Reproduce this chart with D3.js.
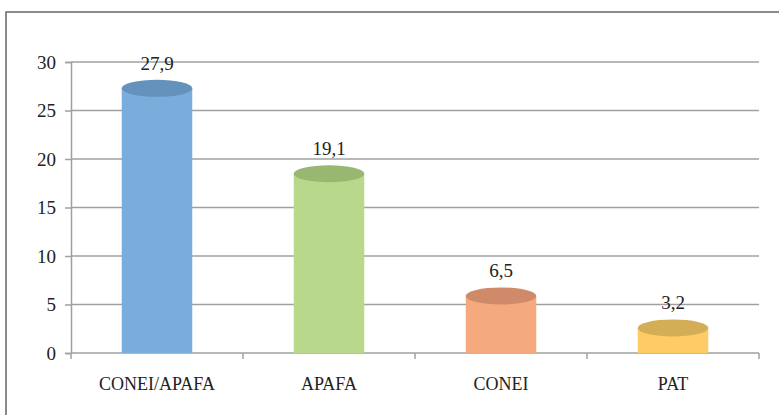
<!DOCTYPE html>
<html>
<head>
<meta charset="utf-8">
<script src="https://cdn.jsdelivr.net/npm/d3@7"></script>
<style>
  body { margin: 0; background: #fff; }
</style>
</head>
<body>
<div id="chart"></div>
<script>
var categories = ['CONEI/APAFA', 'APAFA', 'CONEI', 'PAT'];
var values = [27.9, 19.1, 6.5, 3.2];
var valueLabels = ['27,9', '19,1', '6,5', '3,2'];
var bodyColors = ['#7aacdc', '#b8d98b', '#f5a97f', '#fecb66'];
var topColors = ['#6592bd', '#98b771', '#cf8a6a', '#d4ad57'];
var yTicks = [0, 5, 10, 15, 20, 25, 30];

var width = 779, height = 415;
var plotLeft = 71, plotRight = 759, plotTop = 62, plotBottom = 353;
var ry = 8.5, topShift = 6;
var serif = '"Liberation Serif", serif';

var svg = d3.select('#chart').append('svg')
    .attr('width', width)
    .attr('height', height);

// outer frame
svg.append('rect')
    .attr('x', 6).attr('y', 12)
    .attr('width', 800).attr('height', 500)
    .attr('fill', 'none')
    .attr('stroke', '#666')
    .attr('stroke-width', 1.5);

var x = d3.scaleBand().domain(categories).range([plotLeft, plotRight]).paddingInner(0.59).paddingOuter(0.295);
var xb = d3.scaleBand().domain(categories).range([plotLeft, plotRight]);
var y = d3.scaleLinear().domain([0, 30]).range([plotBottom, plotTop]);

// gridlines
svg.append('g').selectAll('line')
    .data(yTicks.slice(1))
    .enter().append('line')
    .attr('x1', plotLeft).attr('x2', plotRight)
    .attr('y1', d => y(d)).attr('y2', d => y(d))
    .attr('stroke', '#a0a0a0').attr('stroke-width', 1.5);

// y axis
var yAxis = svg.append('g')
    .attr('transform', `translate(${plotLeft},0)`)
    .call(d3.axisLeft(y).tickValues(yTicks).tickSize(6).tickPadding(9));
yAxis.select('.domain').attr('stroke', '#a0a0a0').attr('stroke-width', 1.5);
yAxis.selectAll('.tick line').attr('stroke', '#a0a0a0').attr('stroke-width', 1.5);
yAxis.selectAll('text')
    .style('font-family', serif)
    .style('font-size', '19px')
    .style('fill', '#222');

// x axis
svg.append('line')
    .attr('x1', plotLeft).attr('x2', plotRight)
    .attr('y1', plotBottom).attr('y2', plotBottom)
    .attr('stroke', '#a0a0a0').attr('stroke-width', 1.5);
svg.append('g').selectAll('line')
    .data(categories.concat(['end']))
    .enter().append('line')
    .attr('x1', (d, i) => i < categories.length ? xb(d) : plotRight)
    .attr('x2', (d, i) => i < categories.length ? xb(d) : plotRight)
    .attr('y1', plotBottom).attr('y2', plotBottom + 6)
    .attr('stroke', '#a0a0a0').attr('stroke-width', 1.5);
svg.append('g').selectAll('text')
    .data(categories)
    .enter().append('text')
    .attr('x', d => xb(d) + xb.bandwidth() / 2)
    .attr('y', 390)
    .attr('text-anchor', 'middle')
    .style('font-family', serif)
    .style('font-size', '18px')
    .style('fill', '#222')
    .text(d => d);

// cylinders
var bars = svg.append('g').selectAll('g')
    .data(values)
    .enter().append('g');

bars.append('rect')
    .attr('x', (d, i) => x(categories[i]))
    .attr('y', d => y(d) + topShift)
    .attr('width', x.bandwidth())
    .attr('height', d => plotBottom - y(d) - topShift)
    .attr('fill', (d, i) => bodyColors[i]);

bars.append('ellipse')
    .attr('cx', (d, i) => x(categories[i]) + x.bandwidth() / 2)
    .attr('cy', d => y(d) + topShift)
    .attr('rx', x.bandwidth() / 2)
    .attr('ry', ry)
    .attr('fill', (d, i) => topColors[i]);

bars.append('text')
    .attr('x', (d, i) => x(categories[i]) + x.bandwidth() / 2)
    .attr('y', d => y(d) + topShift - ry - 10)
    .attr('text-anchor', 'middle')
    .style('font-family', serif)
    .style('font-size', '19px')
    .style('fill', '#222')
    .text((d, i) => valueLabels[i]);
</script>
</body>
</html>
